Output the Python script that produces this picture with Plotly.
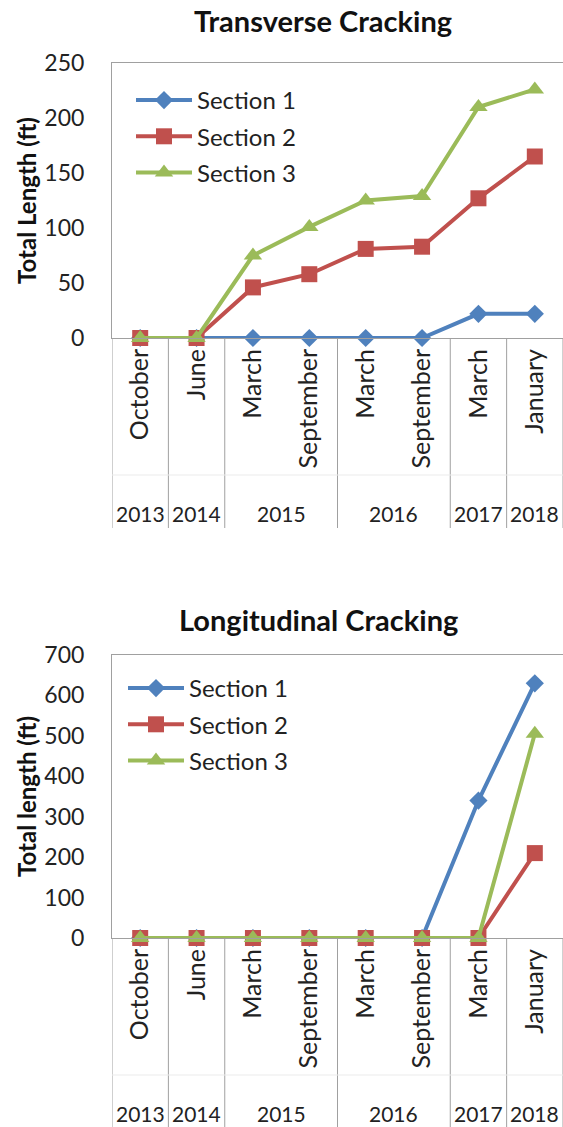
import plotly.graph_objects as go

# categories (inner level = month, outer level = year)
MONTHS = ["October", "June", "March", "September", "March", "September", "March", "January"]
YEARS = ["2013", "2014", "2015", "2015", "2016", "2016", "2017", "2018"]

# Transverse cracking, total length (ft)
TRANS_S1 = [0, 0, 0, 0, 0, 0, 22, 22]
TRANS_S2 = [0, 0, 46, 58, 81, 83, 127, 165]
TRANS_S3 = [0, 0, 75, 101, 125, 129, 210, 226]

# Longitudinal cracking, total length (ft)
LONG_S1 = [0, 0, 0, 0, 0, 0, 340, 630]
LONG_S2 = [0, 0, 0, 0, 0, 0, 0, 210]
LONG_S3 = [0, 0, 0, 0, 0, 0, 0, 505]

SERIES = ["Section 1", "Section 2", "Section 3"]
COLORS = ["#4F81BD", "#C0504D", "#9BBB59"]
SYMBOLS = ["diamond", "square", "triangle-up"]
MSIZE = [14, 16, 16]

FONT = "Lato, 'Open Sans', sans-serif"
AXIS_GREY = "#A0A0A0"
TXT = "#222"

# body margin is removed in post_script, so page pixels == figure pixels
W, H = 563, 1127
L, R, T, B = 112, 0, 63, 1127 - 938
PLOT_H = H - T - B

def py(pix):
    # pixel row -> paper y
    return (H - B - pix) / PLOT_H

def px(pix):
    # pixel column -> paper x
    return (pix - L) / (W - L - R)

x = list(range(len(MONTHS)))
fig = go.Figure()

for i, ys in enumerate([TRANS_S1, TRANS_S2, TRANS_S3]):
    fig.add_trace(go.Scatter(
        x=x, y=ys, name=SERIES[i], mode="lines+markers", cliponaxis=False,
        line=dict(color=COLORS[i], width=4),
        marker=dict(symbol=SYMBOLS[i], size=MSIZE[i], color=COLORS[i]),
        legend="legend", legendgroup="t%d" % i,
        xaxis="x", yaxis="y"))

for i, ys in enumerate([LONG_S1, LONG_S2, LONG_S3]):
    fig.add_trace(go.Scatter(
        x=x, y=ys, name=SERIES[i], mode="lines+markers", cliponaxis=False,
        line=dict(color=COLORS[i], width=4),
        marker=dict(symbol=SYMBOLS[i], size=MSIZE[i], color=COLORS[i]),
        legend="legend2", legendgroup="l%d" % i,
        xaxis="x2", yaxis="y2"))

# year groups: [label, first index, last index]
groups = []
for i, yr in enumerate(YEARS):
    if groups and groups[-1][0] == yr:
        groups[-1][2] = i
    else:
        groups.append([yr, i, i])

shapes = []
annotations = []
for xr, yr, dom in [("x", "y", 275), ("x2", "y2", 283)]:
    bounds = [g[1] - 0.5 for g in groups] + [groups[-1][2] + 0.5]
    for b in bounds:
        shapes.append(dict(type="line", xref=xr, yref=yr + " domain",
                           x0=b, x1=b, y0=0, y1=-190 / dom,
                           line=dict(color=AXIS_GREY, width=1)))
    shapes.append(dict(type="line", xref=xr, yref=yr + " domain",
                       x0=-0.5, x1=7.5, y0=-137 / dom, y1=-137 / dom,
                       line=dict(color="#EBEBEB", width=1)))
    for yrlabel, a, b in groups:
        annotations.append(dict(text=yrlabel, xref=xr, yref=yr + " domain",
                                x=(a + b) / 2, y=-175 / dom, yanchor="middle",
                                showarrow=False,
                                font=dict(family=FONT, size=21, color=TXT)))

annotations.append(dict(text="<b>Transverse Cracking</b>", xref="paper", yref="paper",
                        x=px(323), y=py(21), xanchor="center", yanchor="middle",
                        showarrow=False, font=dict(family=FONT, size=29, color="#111")))
annotations.append(dict(text="<b>Longitudinal Cracking</b>", xref="paper", yref="paper",
                        x=px(318), y=py(619), xanchor="center", yanchor="middle",
                        showarrow=False, font=dict(family=FONT, size=29, color="#111")))

xaxis_common = dict(range=[-0.5, 7.5], tickmode="array", tickvals=x, ticktext=MONTHS,
                    tickangle=-90, showline=True, linecolor=AXIS_GREY, linewidth=1,
                    mirror=True, showgrid=False, zeroline=False, ticks="",
                    tickfont=dict(family=FONT, size=25, color=TXT))
yaxis_common = dict(showline=True, linecolor=AXIS_GREY, linewidth=1, mirror=True,
                    showgrid=False, zeroline=False, ticks="", ticklabelstandoff=22,
                    tickfont=dict(family=FONT, size=23, color=TXT),
                    title_font=dict(family=FONT, size=24, color="#111"),
                    title_standoff=0)

legend_common = dict(bgcolor="rgba(0,0,0,0)", font=dict(family=FONT, size=24, color=TXT),
                     tracegroupgap=2, itemwidth=56, xanchor="left", yanchor="top",
                     xref="paper", yref="paper")

fig.update_layout(
    width=W, height=H,
    margin=dict(l=L, r=R, t=T, b=B),
    paper_bgcolor="white", plot_bgcolor="white",
    xaxis=dict(anchor="y", **xaxis_common),
    xaxis2=dict(anchor="y2", **xaxis_common),
    yaxis=dict(domain=[py(338), 1], range=[0, 250], dtick=50,
               title_text="<b>Total Length (ft)</b>", **yaxis_common),
    yaxis2=dict(domain=[0, py(655)], range=[0, 700], dtick=100,
                title_text="<b>Total length (ft)</b>", **yaxis_common),
    legend=dict(x=px(131), y=py(78), **legend_common),
    legend2=dict(x=px(123), y=py(666), **legend_common),
    annotations=annotations,
    shapes=shapes,
)

fig.write_html("out.html", config={"displayModeBar": False},
               post_script="document.body.style.margin='0';")
